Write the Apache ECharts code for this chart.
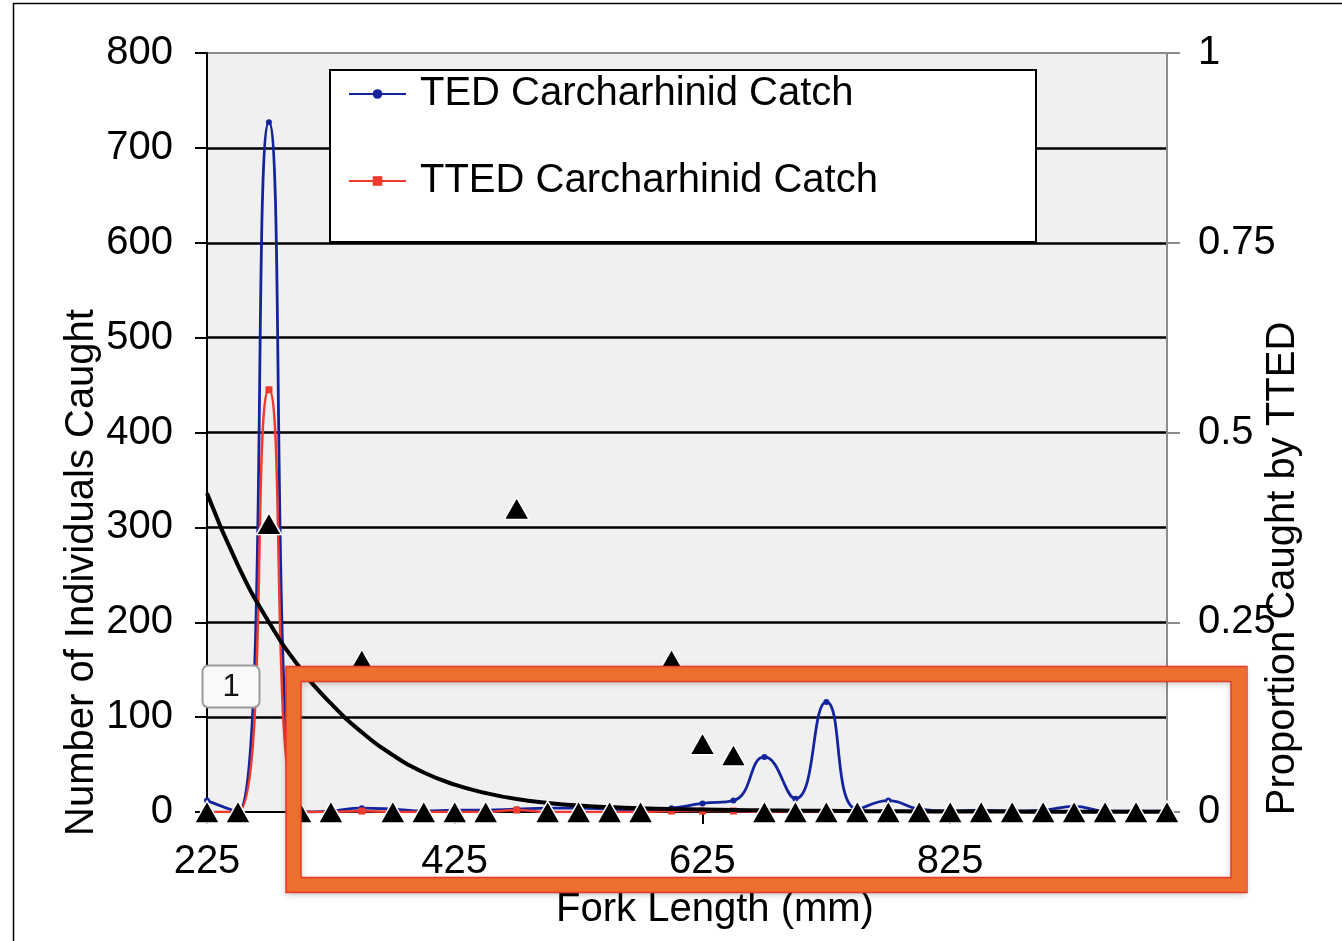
<!DOCTYPE html>
<html>
<head>
<meta charset="utf-8">
<title>Carcharhinid catch by fork length</title>
<script src="https://cdn.jsdelivr.net/npm/echarts@6/dist/echarts.min.js"></script>
<style>
  html, body { margin: 0; padding: 0; background: #ffffff; }
  #chart { width: 1342px; height: 941px; }
</style>
</head>
<body>
<div id="chart"></div>
<script>
// Fork length classes (mm)
const forkLengths = ['225','250','275','300','325','350','375','400','425','450','475','500','525','550','575','600',
                     '625','650','675','700','725','750','775','800','825','850','875','900','925','950','975','1000'];

// Number of individuals caught per length class
const tedCatch  = [12,0,727,0,1,4,3,1,2,2,3,4,4,3,2,4,9,12,58,14,116,3,12,3,1,2,1,2,6,1,1,1];
const ttedCatch = [0,0,445,0,0,1,0,0,0,0,2,0,0,0,0,1,1,1,0,0,0,0,0,0,0,0,0,0,0,0,0,0];

// Proportion of the catch taken by TTED in each class
const ttedProportion = [0,0,0.38,0,0,0.2,0,0,0,0,0.4,0,0,0,0,0.2,0.09,0.075,0,0,0,0,0,0,0,0,0,0,0,0,0,0];

// Fitted trend through the proportions
const proportionTrend = [0.42,0.325,0.25,0.19,0.143,0.105,0.075,0.052,0.036,0.025,0.017,0.012,0.0085,0.0065,0.005,0.004,
                         0.0033,0.0027,0.0022,0.0018,0.0015,0.0012,0.001,0.0008,0.0007,0.0006,0.0005,0.0004,0.0003,0.0003,0.0002,0.0002];

const FONT = 'Liberation Sans, Arial, Helvetica, sans-serif';
const FS = 40;
const chart = echarts.init(document.getElementById('chart'), null, { renderer: 'canvas' });

chart.setOption({
  animation: false,
  backgroundColor: '#ffffff',
  textStyle: { fontFamily: FONT, color: '#000' },
  grid: {
    left: 207, top: 53, right: 175, bottom: 129,
    outerBoundsMode: 'none', containLabel: false,
    show: true, backgroundColor: '#f0f0f0', borderColor: '#8c8c8c', borderWidth: 2
  },
  legend: {
    left: 348, top: 72, orient: 'vertical', z: 5, padding: 0,
    itemWidth: 57, itemHeight: 12, itemGap: 43,
    textStyle: { fontFamily: FONT, fontSize: FS, color: '#000', lineHeight: 44, padding: [0, 0, 0, 9] },
    data: ['TED Carcharhinid Catch', 'TTED Carcharhinid Catch']
  },
  xAxis: {
    type: 'category',
    data: forkLengths,
    boundaryGap: false,
    axisLine: { lineStyle: { color: '#000', width: 2 } },
    axisTick: { show: true, interval: 7, length: 12, lineStyle: { color: '#000', width: 2 } },
    axisLabel: { interval: 7, fontSize: FS, color: '#000', margin: 30, fontFamily: FONT },
    splitLine: { show: false },
    name: 'Fork Length (mm)',
    nameLocation: 'middle',
    nameGap: 78,
    nameMoveOverlap: false,
    nameTextStyle: { fontSize: FS, color: '#000', fontFamily: FONT, padding: [0, 0, 0, 56] }
  },
  yAxis: [
    {
      type: 'value', min: 0, max: 800, interval: 100,
      axisLine: { show: true, lineStyle: { color: '#000', width: 2 } },
      axisTick: { show: true, length: 12, lineStyle: { color: '#000', width: 2 } },
      axisLabel: { fontSize: FS, color: '#000', margin: 34, fontFamily: FONT },
      splitLine: { show: true, showMaxLine: false, showMinLine: false, lineStyle: { color: '#000', width: 2.5 } },
      name: 'Number of Individuals Caught',
      nameLocation: 'middle', nameRotate: 90, nameGap: 105,
      nameMoveOverlap: false,
      nameTextStyle: { fontSize: FS, color: '#000', fontFamily: FONT, padding: [0, 280, 0, 0] }
    },
    {
      type: 'value', min: 0, max: 1, interval: 0.25, position: 'right',
      axisLine: { show: true, lineStyle: { color: '#8c8c8c', width: 2 } },
      axisTick: { show: true, length: 13, lineStyle: { color: '#8c8c8c', width: 2 } },
      axisLabel: { fontSize: FS, color: '#000', margin: 31, fontFamily: FONT },
      splitLine: { show: false },
      name: 'Proportion Caught by TTED',
      nameLocation: 'middle', nameRotate: 90, nameGap: 96,
      nameMoveOverlap: false,
      nameTextStyle: { fontSize: FS, color: '#000', fontFamily: FONT, padding: [0, 272, 0, 0] }
    }
  ],
  series: [
    {
      name: 'TED Carcharhinid Catch', type: 'line', yAxisIndex: 0, z: 2,
      data: tedCatch, smooth: 0.5,
      symbol: 'circle', symbolSize: 6, showSymbol: true,
      lineStyle: { color: '#14249c', width: 2.8 },
      itemStyle: { color: '#14249c' }
    },
    {
      name: 'TTED Carcharhinid Catch', type: 'line', yAxisIndex: 0, z: 3,
      data: ttedCatch, smooth: 0.5,
      symbol: 'rect', symbolSize: 7, showSymbol: true,
      lineStyle: { color: '#f03a2e', width: 2.5 },
      itemStyle: { color: '#f03a2e' }
    },
    {
      name: 'Trend', type: 'line', yAxisIndex: 1, z: 4,
      data: proportionTrend, smooth: 0.5, showSymbol: false, symbol: 'none',
      lineStyle: { color: '#000', width: 4 }
    },
    {
      name: 'Proportion', type: 'scatter', yAxisIndex: 1, z: 6,
      data: ttedProportion,
      symbol: 'triangle', symbolSize: [25, 22],
      itemStyle: { color: '#000', opacity: 1, borderColor: '#ffffff', borderWidth: 1.5 }
    }
  ],
  graphic: [
    // outer frame of the figure
    { type: 'rect', z: 1, silent: true,
      shape: { x: 13.5, y: 3.5, width: 1400, height: 1000 },
      style: { fill: 'none', stroke: '#000', lineWidth: 1.5 } },
    // legend panel
    { type: 'rect', z: 4, silent: true,
      shape: { x: 330, y: 70, width: 706, height: 172 },
      style: { fill: '#ffffff', stroke: '#000', lineWidth: 2 } },
    // callout tag
    { type: 'rect', z: 20, silent: true,
      shape: { x: 202.5, y: 665.5, width: 57, height: 42, r: 6 },
      style: { fill: '#f9f9f9', stroke: '#9a9a9a', lineWidth: 2 } },
    { type: 'text', z: 21, silent: true,
      style: { x: 231, y: 687, text: '1', fill: '#111', font: '31px ' + FONT, align: 'center', verticalAlign: 'middle' } },
    // highlight frame around the low-count region
    { type: 'rect', z: 20, silent: true,
      shape: { x: 293.5, y: 674, width: 945, height: 211 },
      style: { fill: 'none', stroke: '#ec6f2d', lineWidth: 15, shadowBlur: 6, shadowColor: 'rgba(0,0,0,0.25)', shadowOffsetY: 2 } },
    { type: 'rect', z: 21, silent: true,
      shape: { x: 286, y: 666.5, width: 961, height: 226 },
      style: { fill: 'none', stroke: '#e63b2b', lineWidth: 1.5 } },
    { type: 'rect', z: 21, silent: true,
      shape: { x: 301, y: 681.5, width: 930, height: 196 },
      style: { fill: 'none', stroke: '#e63b2b', lineWidth: 1.5 } }
  ]
});
</script>
</body>
</html>
